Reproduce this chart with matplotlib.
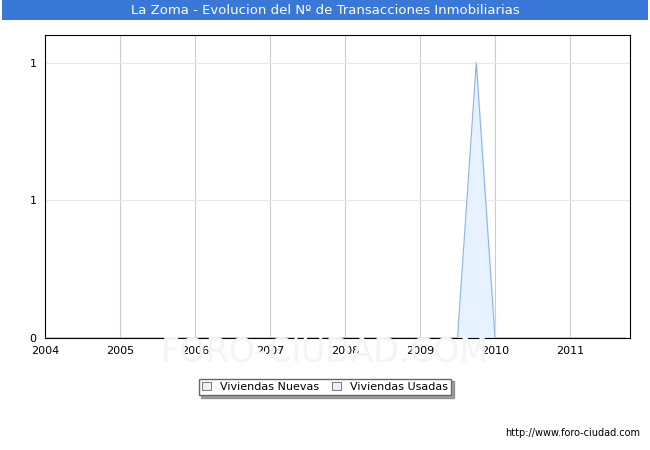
import matplotlib
matplotlib.use("Agg")
import matplotlib.pyplot as plt
import numpy as np

years = [2004, 2005, 2006, 2007, 2008, 2009, 2010, 2011]
quarters = np.arange(2004.0, 2011.76, 0.25)
nuevas = [0]*len(quarters)
usadas = [0]*len(quarters)
usadas[list(quarters).index(2009.75)] = 1
ytick_vals = [0, 0.5, 1]
ytick_labels = ["0", "1", "1"]

fig = plt.figure(figsize=(6.5, 4.5), dpi=100)
fig.patch.set_facecolor("white")
fig.text(0.5, 1-352/450, "FORO-CIUDAD.COM", ha="center", va="center",
         fontsize=24, color="#f4f4f4", zorder=0)
ax = fig.add_axes([45/650, 1-338/450, 585/650, 303/450])
ax.patch.set_alpha(0)
ax.fill_between(quarters, usadas, color="#e6f2ff", zorder=2)
ax.plot(quarters, usadas, color="#8fb4e8", lw=0.8, zorder=3)
ax.fill_between(quarters, nuevas, color="#f0f0f0", zorder=2)
ax.set_xlim(2004, 2011.8)
ax.set_ylim(0, 1.1)
ax.set_xticks(years)
ax.set_xticklabels([str(y) for y in years], fontsize=8)
ax.set_yticks(ytick_vals)
ax.set_yticklabels(ytick_labels, fontsize=8)
ax.tick_params(length=0, pad=6)
ax.grid(axis="x", color="#cccccc", lw=0.8)
ax.grid(axis="y", color="#e8e8e8", lw=0.8)
ax.set_axisbelow(True)
for s in ax.spines.values():
    s.set_color("black"); s.set_linewidth(0.8)

fig.patches.append(plt.Rectangle((2/650, 1-20/450), 646/650, 20/450, transform=fig.transFigure,
                                 facecolor="#3a78d8", edgecolor="none"))
fig.text(0.5, 1-10/450, "La Zoma - Evolucion del Nº de Transacciones Inmobiliarias",
         ha="center", va="center", color="white", fontsize=9.5)
fig.text(640/650, 1-433/450, "http://www.foro-ciudad.com", ha="right", va="center", fontsize=7)

from matplotlib.patches import Patch
h = [Patch(facecolor="#f0f0f0", edgecolor="#666666", lw=0.6),
     Patch(facecolor="#e6f2ff", edgecolor="#666666", lw=0.6)]
leg = fig.legend(h, ["Viviendas Nuevas", "Viviendas Usadas"], loc="center",
                 bbox_to_anchor=(325/650, 1-387/450), ncol=2, fontsize=8,
                 fancybox=False, shadow=True, handlelength=0.8, handleheight=0.8,
                 borderpad=0.3, columnspacing=1.2)
leg.get_frame().set_edgecolor("#666666")
fig.savefig("out.png", dpi=100)
